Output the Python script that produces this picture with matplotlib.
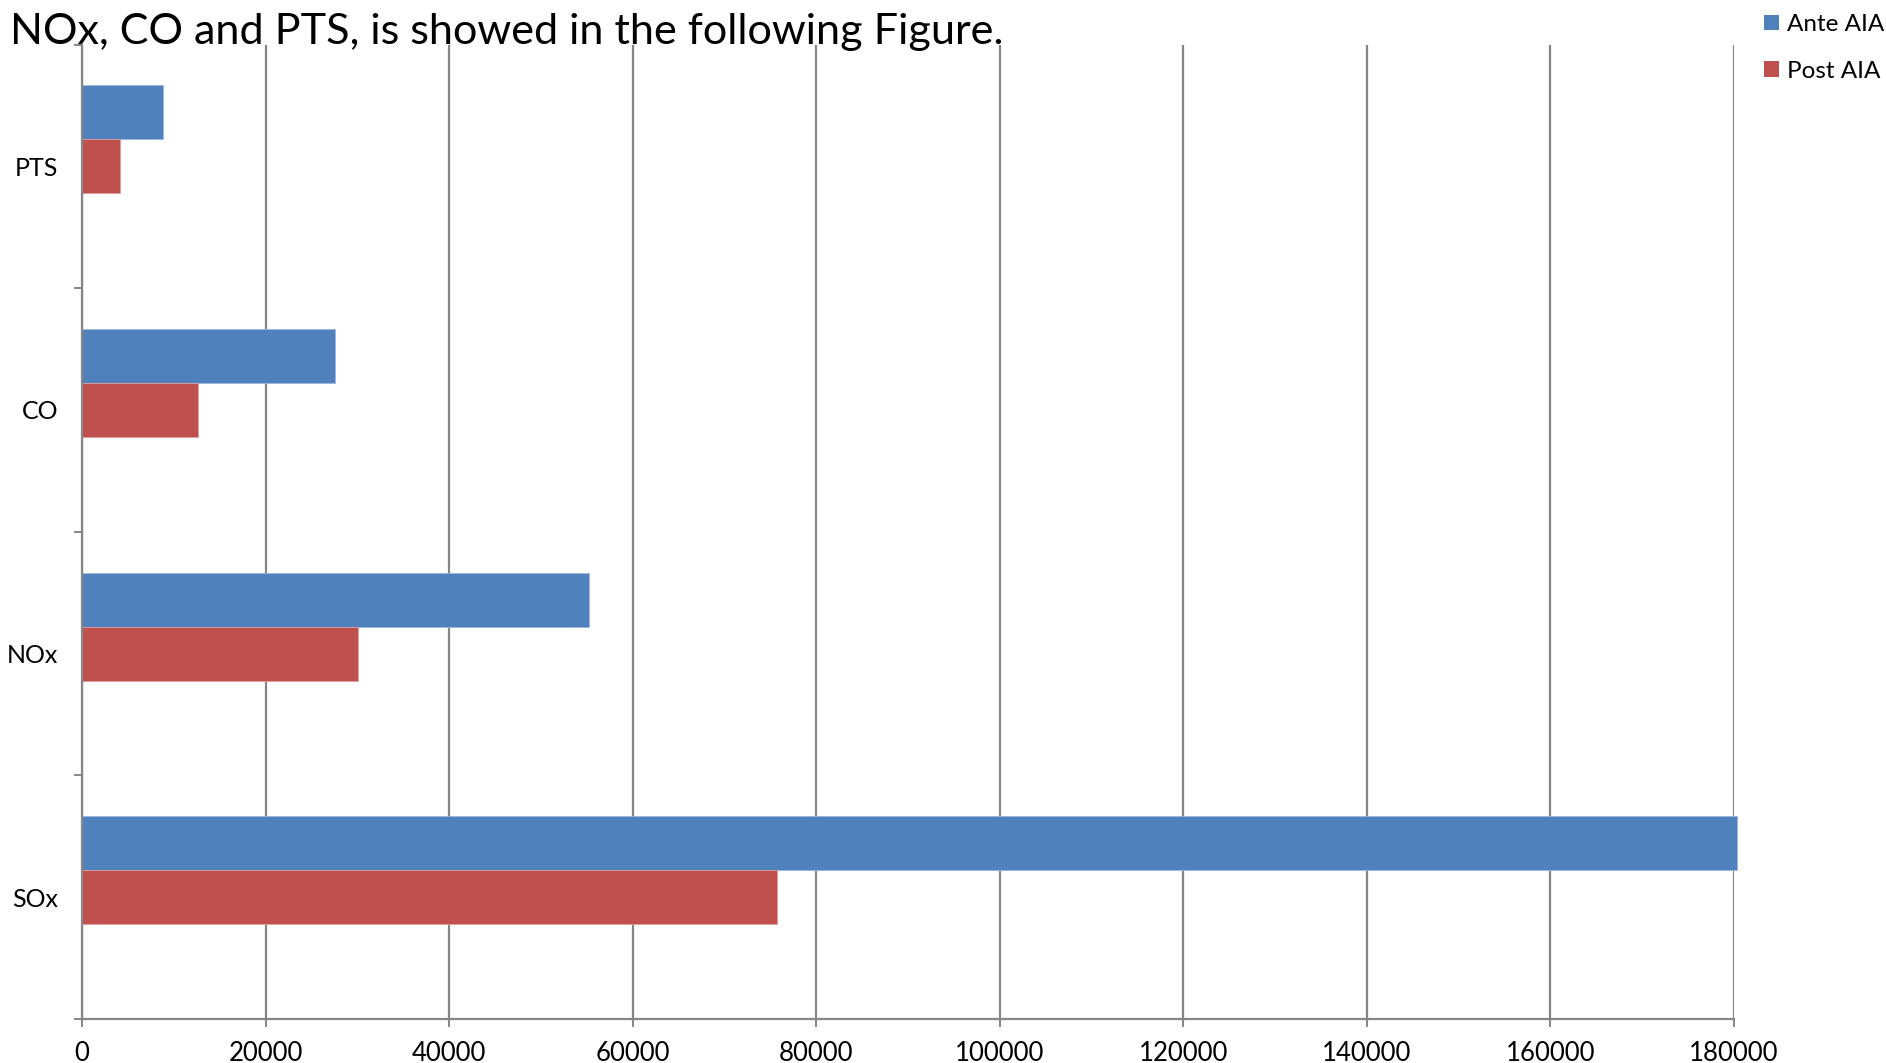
import matplotlib
matplotlib.use("Agg")
import matplotlib.pyplot as plt
from matplotlib.patches import Patch
import numpy as np

categories = ["SOx", "NOx", "CO", "PTS"]
ante_aia = [180300, 55250, 27600, 8850]
post_aia = [75700, 30100, 12600, 4100]
series_names = ["Ante AIA", "Post AIA"]
x_ticks = list(range(0, 180001, 20000))

BLUE = "#4F81BD"
RED = "#C0504D"
GRID = "#868686"

plt.rcParams["font.family"] = ["Lato", "DejaVu Sans"]

fig = plt.figure(figsize=(18.86, 10.63), dpi=100)
ax = fig.add_axes([82 / 1886, 1 - 1019 / 1063, (1734 - 82) / 1886, (1019 - 44.5) / 1063])

pos = np.arange(len(categories))
h = 54 / 243.5
ax.barh(pos + h, ante_aia, height=h, color=BLUE, edgecolor="#9DB7DD", linewidth=0.6, clip_on=False)
ax.barh(pos, post_aia, height=h, color=RED, edgecolor="#DDA09E", linewidth=0.6, clip_on=False)

ax.set_xlim(0, 180000)
ax.set_ylim(-0.5, len(categories) - 0.5)
ax.set_xticks(x_ticks)
ax.set_xticklabels([str(v) for v in x_ticks])
ax.set_yticks(np.arange(len(categories) + 1) - 0.5)
ax.set_yticklabels([])
ax.set_yticks(pos, minor=True)
ax.set_yticklabels(categories, minor=True)

ax.set_axisbelow(True)
ax.grid(axis="x", color=GRID, linewidth=1.6)
for side in ("top", "right"):
    ax.spines[side].set_visible(False)
for side in ("left", "bottom"):
    ax.spines[side].set_color(GRID)
    ax.spines[side].set_linewidth(1.6)

ax.tick_params(axis="x", which="major", length=5.5, width=1.4, color=GRID, labelsize=18.5, pad=10)
ax.tick_params(axis="y", which="major", length=5.5, width=1.4, color=GRID)
ax.tick_params(axis="y", which="minor", length=0, labelsize=18, pad=17)

fig.text(10 / 1886, 1 - 44 / 1063, "NOx, CO and PTS, is showed in the following Figure.",
         fontsize=31.1, va="baseline", ha="left")

handles = [Patch(facecolor=BLUE), Patch(facecolor=RED)]
fig.legend(handles, series_names, loc="upper left", bbox_to_anchor=(1764 / 1886, 1 - 14 / 1063),
           frameon=False, fontsize=17.5, handlelength=0.6, handleheight=0.6,
           handletextpad=0.35, labelspacing=1.05, borderpad=0, borderaxespad=0)

fig.savefig("out.png", dpi=100)
